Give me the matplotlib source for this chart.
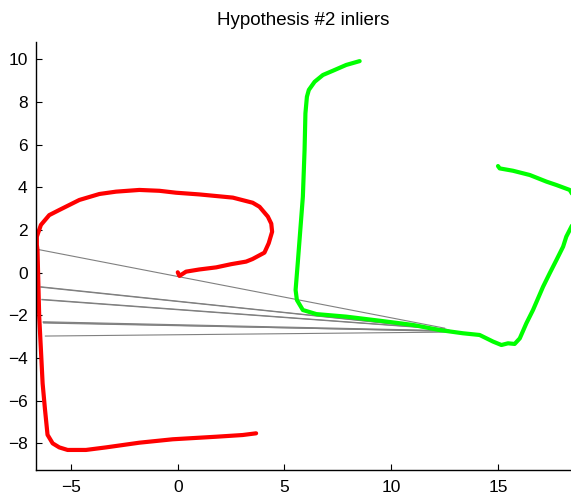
import numpy as np
import matplotlib
matplotlib.use("Agg")
import matplotlib.pyplot as plt

plt.rcParams['font.family'] = ['Liberation Sans', 'DejaVu Sans']

# First trajectory (red)
red_x = [0.0, 0.08, 0.39, 1.0, 1.8, 2.5, 3.2, 3.5, 4.06, 4.26, 4.42, 4.38, 4.22, 3.83, 3.51,
         2.58, 1.01, -0.08, -0.86, -1.8, -2.89, -3.67, -4.61, -5.55, -6.02, -6.41, -6.6,
         -6.6, -6.57, -6.53, -6.49, -6.41, -6.33, -6.22, -6.1, -5.86, -5.55, -5.16, -4.3,
         -3.36, -1.8, -0.24, 1.8, 3.04, 3.67]
red_y = [0.02, -0.15, 0.05, 0.15, 0.25, 0.4, 0.52, 0.64, 0.94, 1.38, 1.92, 2.3, 2.63, 3.09, 3.28,
         3.52, 3.67, 3.75, 3.84, 3.88, 3.8, 3.69, 3.41, 2.94, 2.7, 2.24, 1.69,
         1.3, 1.06, -0.5, -2.06, -3.6, -5.19, -6.4, -7.6, -8.0, -8.19, -8.31, -8.31,
         -8.19, -7.97, -7.81, -7.69, -7.61, -7.53]

# Second trajectory (green)
green_x = [8.52, 7.89, 7.27, 6.8, 6.41, 6.14, 6.05, 5.98, 5.94, 5.86, 5.74, 5.62, 5.52, 5.58,
           5.86, 6.49, 7.89, 9.45, 11.02, 12.27, 13.36, 14.14, 14.77, 15.16, 15.47, 15.78,
           16.02, 16.33, 16.64, 17.11, 17.42, 17.74, 18.05, 18.2, 18.44, 18.9,
           18.36, 17.74, 17.27, 16.49, 15.7, 15.08, 15.0]
green_y = [9.92, 9.74, 9.47, 9.27, 8.95, 8.57, 8.25, 7.47, 5.75, 3.56, 2.0, 0.44, -0.81, -1.28,
           -1.75, -1.94, -2.06, -2.25, -2.45, -2.69, -2.84, -2.92, -3.23, -3.39, -3.31, -3.34,
           -3.08, -2.37, -1.75, -0.66, -0.03, 0.6, 1.22, 1.69, 2.16, 3.0,
           3.88, 4.11, 4.27, 4.58, 4.78, 4.89, 5.0]

# Inlier correspondences: red point -> green point
match_x0 = [-6.6, -6.41, -6.41, -6.36, -6.36, -6.3, -6.3, -6.28, -6.2]
match_y0 = [1.1, -0.66, -0.68, -1.25, -1.27, -2.3, -2.33, -2.36, -2.97]
match_x1 = [12.5, 12.6, 12.7, 12.5, 12.6, 12.8, 13.0, 12.9, 13.1]
match_y1 = [-2.6, -2.66, -2.68, -2.64, -2.66, -2.72, -2.76, -2.74, -2.78]

fig = plt.figure(figsize=(5.71, 4.95), dpi=100)
ax = fig.add_axes([36 / 571, 25 / 495, 535 / 571, 428.3 / 495])

for x0, y0, x1, y1 in zip(match_x0, match_y0, match_x1, match_y1):
    ax.plot([x0, x1], [y0, y1], color=(0.5, 0.5, 0.5), lw=0.8, zorder=1)

ax.plot(red_x, red_y, color=(1, 0, 0), lw=3.0, solid_capstyle='round',
        solid_joinstyle='round', zorder=2)
ax.plot(green_x, green_y, color=(0, 1, 0), lw=3.0, solid_capstyle='round',
        solid_joinstyle='round', zorder=2)

ax.set_xlim(-6.64, 18.42)
ax.set_ylim(-9.25, 10.83)
ax.set_xticks([-5, 0, 5, 10, 15])
ax.set_yticks([-8, -6, -4, -2, 0, 2, 4, 6, 8, 10])

for s in ('top', 'right'):
    ax.spines[s].set_visible(False)
for s in ('left', 'bottom'):
    ax.spines[s].set_linewidth(1.0)

ax.tick_params(direction='in', length=4, width=0.8, labelsize=12.5)
ax.tick_params(axis='y', pad=6)
ax.tick_params(axis='x', pad=7)

ax.set_title('Hypothesis #2 inliers', fontsize=13.5, pad=12)

fig.savefig('out.png', dpi=100)
